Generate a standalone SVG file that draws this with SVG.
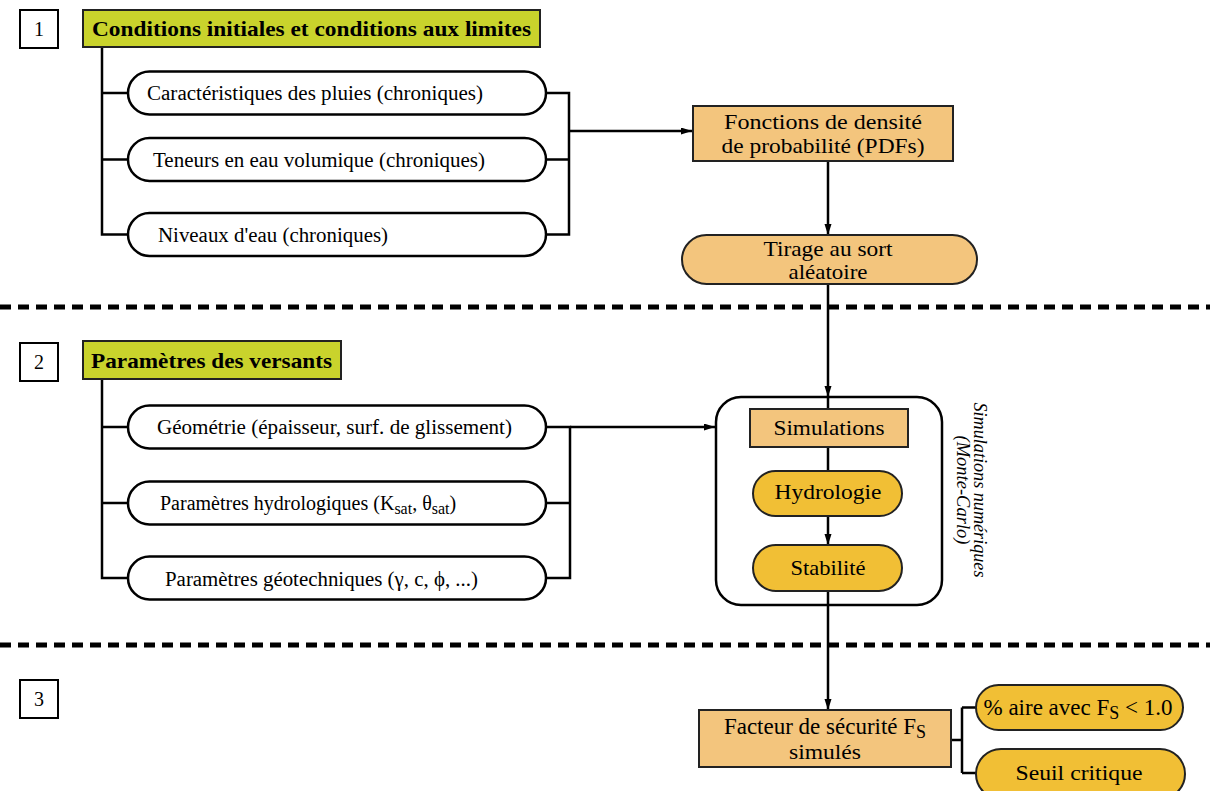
<svg xmlns="http://www.w3.org/2000/svg" width="1210" height="791" viewBox="0 0 1210 791" font-family="'Liberation Serif', 'Times New Roman', serif">
<defs>
<marker id="arr" markerUnits="userSpaceOnUse" markerWidth="12" markerHeight="8" refX="11" refY="3.5" orient="auto">
<path d="M0,0 L11,3.5 L0,7 z" fill="#000"/>
</marker>
<style>
text{font-family:'Liberation Serif','Times New Roman',serif;fill:#000}
.num{font-family:'Liberation Serif',serif;font-size:20px;text-anchor:middle}
.hdr{font-family:'Liberation Serif',serif;font-size:21px;font-weight:bold}
.pt{font-family:'Liberation Serif',serif;font-size:20px}
.ct{font-family:'Liberation Serif',serif;font-size:21px;text-anchor:middle}
.big{font-size:23px}
.vt{font-family:'Liberation Serif',serif;font-size:18.5px;font-style:italic;text-anchor:middle}
.box{fill:#fff;stroke:#000;stroke-width:2}
.hbox{fill:#c9d32c;stroke:#222;stroke-width:2}
.pill{fill:#fff;stroke:#000;stroke-width:2.5}
.tan{fill:#f3c57d;stroke:#222;stroke-width:2}
.gold{fill:#f1bf35;stroke:#222;stroke-width:2}
.cont{fill:none;stroke:#000;stroke-width:2.5}
.ln{fill:none;stroke:#000;stroke-width:2.5}
.dash{stroke:#000;stroke-width:5;stroke-dasharray:11 7}
</style>
</defs>
<rect width="1210" height="791" fill="#fff"/>

<g id="separators">
<line class="dash" x1="0" y1="307" x2="1210" y2="307"/>
<line class="dash" x1="0" y1="645" x2="1210" y2="645"/>
</g>

<g id="connectors">
<path class="ln" d="M102 47 V234.5 H128 M102 93 H128 M102 159.5 H128"/>
<path class="ln" d="M546 93 H569 V234.5 H546 M546 159.5 H569"/>
<path class="ln" d="M569 131 H692" marker-end="url(#arr)"/>
<path class="ln" d="M828 161 V235" marker-end="url(#arr)"/>
<path class="ln" d="M828 284 V397" marker-end="url(#arr)"/>
<path class="ln" d="M102 380 V578 H128 M102 427 H128 M102 503 H128"/>
<path class="ln" d="M546 427 H570 V578 H546 M546 503 H570"/>
<path class="ln" d="M570 427 H715" marker-end="url(#arr)"/>
<path class="ln" d="M828 397 V471"/>
<path class="ln" d="M828 516 V545" marker-end="url(#arr)"/>
<path class="ln" d="M828 591 V710" marker-end="url(#arr)"/>
<path class="ln" d="M951 740 H962 M962 707.5 V773 M962 707.5 H976 M962 773 H976"/>
</g>

<g id="n1">
<rect class="box" x="20" y="10" width="38" height="38"/>
<text class="num" x="39" y="36">1</text>
</g>
<g id="h1">
<rect class="hbox" x="83" y="10" width="457" height="37"/>
<text class="hdr" x="92" y="36" textLength="439" lengthAdjust="spacingAndGlyphs">Conditions initiales et conditions aux limites</text>
</g>
<g id="p1">
<rect class="pill" x="128" y="71.5" width="418" height="43" rx="21.5"/>
<text class="pt" x="147" y="100" textLength="336" lengthAdjust="spacingAndGlyphs">Caractéristiques des pluies (chroniques)</text>
</g>
<g id="p2">
<rect class="pill" x="128" y="138" width="418" height="43" rx="21.5"/>
<text class="pt" x="153" y="167" textLength="332" lengthAdjust="spacingAndGlyphs">Teneurs en eau volumique (chroniques)</text>
</g>
<g id="p3">
<rect class="pill" x="128" y="213" width="418" height="43" rx="21.5"/>
<text class="pt" x="158" y="242" textLength="230" lengthAdjust="spacingAndGlyphs">Niveaux d'eau (chroniques)</text>
</g>
<g id="pdf">
<rect class="tan" x="693" y="106" width="260" height="55"/>
<text class="ct" x="823" y="129" textLength="198" lengthAdjust="spacingAndGlyphs">Fonctions de densité</text>
<text class="ct" x="823" y="153" textLength="203" lengthAdjust="spacingAndGlyphs">de probabilité (PDFs)</text>
</g>
<g id="tirage">
<rect class="tan" x="682" y="235" width="295" height="49" rx="24.5"/>
<text class="ct" x="828" y="256" textLength="129" lengthAdjust="spacingAndGlyphs">Tirage au sort</text>
<text class="ct" x="828" y="279" textLength="79" lengthAdjust="spacingAndGlyphs">aléatoire</text>
</g>

<g id="n2">
<rect class="box" x="20" y="343" width="38" height="38"/>
<text class="num" x="39" y="369">2</text>
</g>
<g id="h2">
<rect class="hbox" x="83" y="341" width="258" height="38"/>
<text class="hdr" x="91" y="368" textLength="241" lengthAdjust="spacingAndGlyphs">Paramètres des versants</text>
</g>
<g id="p4">
<rect class="pill" x="128" y="405.5" width="418" height="43" rx="21.5"/>
<text class="pt" x="157" y="434" textLength="355" lengthAdjust="spacingAndGlyphs">Géométrie (épaisseur, surf. de glissement)</text>
</g>
<g id="p5">
<rect class="pill" x="128" y="481.5" width="418" height="43" rx="21.5"/>
<text class="pt" x="160" y="510">Paramètres hydrologiques (K<tspan font-size="16" dy="4">sat</tspan><tspan dy="-4">, θ</tspan><tspan font-size="16" dy="4">sat</tspan><tspan dy="-4">)</tspan></text>
</g>
<g id="p6">
<rect class="pill" x="128" y="556.5" width="418" height="43" rx="21.5"/>
<text class="pt" x="165" y="586" textLength="313" lengthAdjust="spacingAndGlyphs">Paramètres géotechniques (γ, c, ϕ, ...)</text>
</g>

<g id="montecarlo">
<rect class="cont" x="716" y="397" width="226" height="208" rx="25"/>
<g transform="translate(980,490) rotate(90)">
<text class="vt" x="0" y="6" textLength="175" lengthAdjust="spacingAndGlyphs">Simulations numériques</text>
<text class="vt" x="0" y="23">(Monte-Carlo)</text>
</g>
</g>
<g id="simulations">
<rect class="tan" x="750" y="409" width="158" height="38"/>
<text class="ct" x="829" y="435" textLength="111" lengthAdjust="spacingAndGlyphs">Simulations</text>
</g>
<g id="hydrologie">
<rect class="gold" x="753" y="471" width="149" height="45" rx="22.5"/>
<text class="ct" x="828" y="499" textLength="107" lengthAdjust="spacingAndGlyphs">Hydrologie</text>
</g>
<g id="stabilite">
<rect class="gold" x="753" y="545" width="149" height="46" rx="23"/>
<text class="ct" x="828" y="575" textLength="75" lengthAdjust="spacingAndGlyphs">Stabilité</text>
</g>

<g id="n3">
<rect class="box" x="20" y="680" width="38" height="38"/>
<text class="num" x="39" y="706">3</text>
</g>
<g id="facteur">
<rect class="tan" x="699" y="710" width="252" height="57"/>
<text class="ct big" x="825" y="734">Facteur de sécurité F<tspan font-size="18" dy="4">S</tspan></text>
<text class="ct" x="825" y="759" textLength="72" lengthAdjust="spacingAndGlyphs">simulés</text>
</g>
<g id="aire">
<rect class="gold" x="976" y="685" width="207" height="45" rx="22.5"/>
<text class="ct big" x="1078" y="715">% aire avec F<tspan font-size="18" dy="4">S</tspan><tspan dy="-4"> &lt; 1.0</tspan></text>
</g>
<g id="seuil">
<rect class="gold" x="976" y="749" width="209" height="50" rx="25"/>
<text class="ct" x="1079" y="780" textLength="127" lengthAdjust="spacingAndGlyphs">Seuil critique</text>
</g>
</svg>
